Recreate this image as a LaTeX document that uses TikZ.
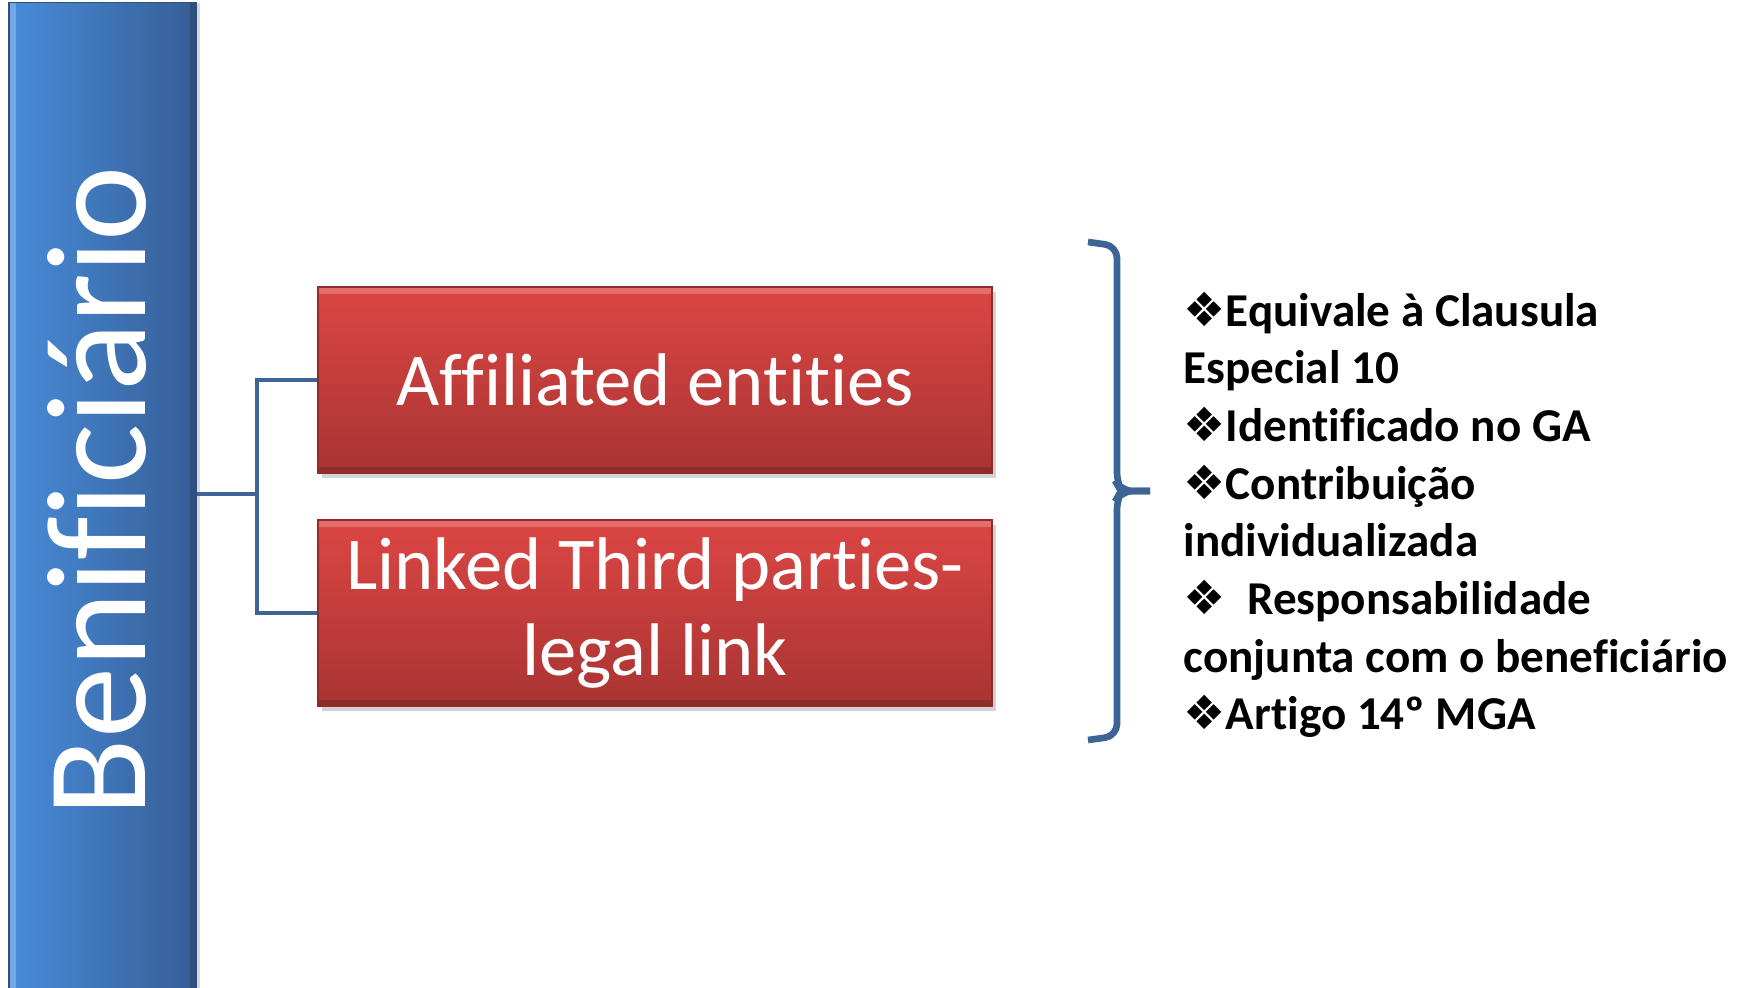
\documentclass[tikz,border=0pt]{standalone}
\usepackage{fontspec}
\setmainfont{Carlito}[Ligatures=NoCommon]
\newfontfamily\dingfont{DejaVu Sans}
\usetikzlibrary{positioning, shadows, decorations.pathreplacing, calc}

\definecolor{barlight}{RGB}{72,140,218}
\definecolor{bardark}{RGB}{54,94,150}
\definecolor{boxtop}{RGB}{220,70,68}
\definecolor{boxbottom}{RGB}{168,52,50}
\definecolor{linkblue}{RGB}{62,100,150}

\newcommand{\diam}{{\dingfont\char"2756}}

\begin{document}
\begin{tikzpicture}[x=0.01cm, y=-0.01cm,
    entitybox/.style={draw=boxbottom!85!black, line width=0.4pt,
      top color=boxtop, bottom color=boxbottom,
      minimum width=6.74cm, minimum height=1.86cm, inner sep=0,
      text=white, font=\fontsize{21.2}{24.5}\selectfont, align=center,
      path picture={
        \fill[white, opacity=0.22] (path picture bounding box.north west) rectangle ([yshift=-0.07cm]path picture bounding box.north east);
        \fill[black, opacity=0.15] (path picture bounding box.south west) rectangle ([yshift=0.06cm]path picture bounding box.south east);
      },
      drop shadow={opacity=0.35, shadow xshift=0.04cm, shadow yshift=-0.05cm}},
    linkline/.style={draw=linkblue, line width=1.3pt},
  ]
  \useasboundingbox (0,0) rectangle (1750,987);

  % left bar
  \node[draw=bardark!85!black, left color=barlight, right color=bardark,
    minimum width=1.87cm, minimum height=9.9cm, inner sep=0,
    path picture={
      \fill[white, opacity=0.25] (path picture bounding box.north west) rectangle ([xshift=0.07cm]path picture bounding box.south west);
      \fill[black, opacity=0.15] (path picture bounding box.north east) rectangle ([xshift=-0.06cm]path picture bounding box.south east);
    },
    drop shadow={opacity=0.3, shadow xshift=0.04cm, shadow yshift=0cm}] (benef) at (102.5,498) {};
  \node[rotate=90, text=white, font=\fontsize{40.5}{48}\selectfont] (beneftext) at (97,491) {Benificiário};

  % the two boxes
  \node[entitybox] (affil) at (655,380) {Affiliated entities};
  \node[entitybox] (linked) at (655,613) {Linked Third parties-\\legal link};

  % connectors
  \draw[linkline] (benef.east |- 0,494) -- (257,494) coordinate (fork);
  \draw[linkline] (affil.west) -| (fork) |- (linked.west);

  % brace
  \coordinate (bracetop) at (1088,242);
  \coordinate (bracebot) at (1088,740);
  \coordinate (bracetip) at (1150,491);
  \draw[linkline, line width=1.9pt, rounded corners=0.12cm]
    (bracetop) -- (1117,246) -- (1117,484) -- (1121,491) -- (bracetip);
  \draw[linkline, line width=1.9pt, rounded corners=0.12cm]
    (bracetip) -- (1121,491) -- (1117,498) -- (1117,736) -- (bracebot);

  % notes
  \node[anchor=north west, inner sep=0, align=left,
    font=\bfseries\fontsize{13.4}{16.4}\selectfont] (notes) at (1183,291) {%
    \diam Equivale à Clausula\\
    Especial 10\\
    \diam Identificado no GA\\
    \diam Contribuição\\
    individualizada\\
    \diam\ \ Responsabilidade\\
    conjunta com o beneficiário\\
    \diam Artigo 14º MGA};
\end{tikzpicture}
\end{document}
